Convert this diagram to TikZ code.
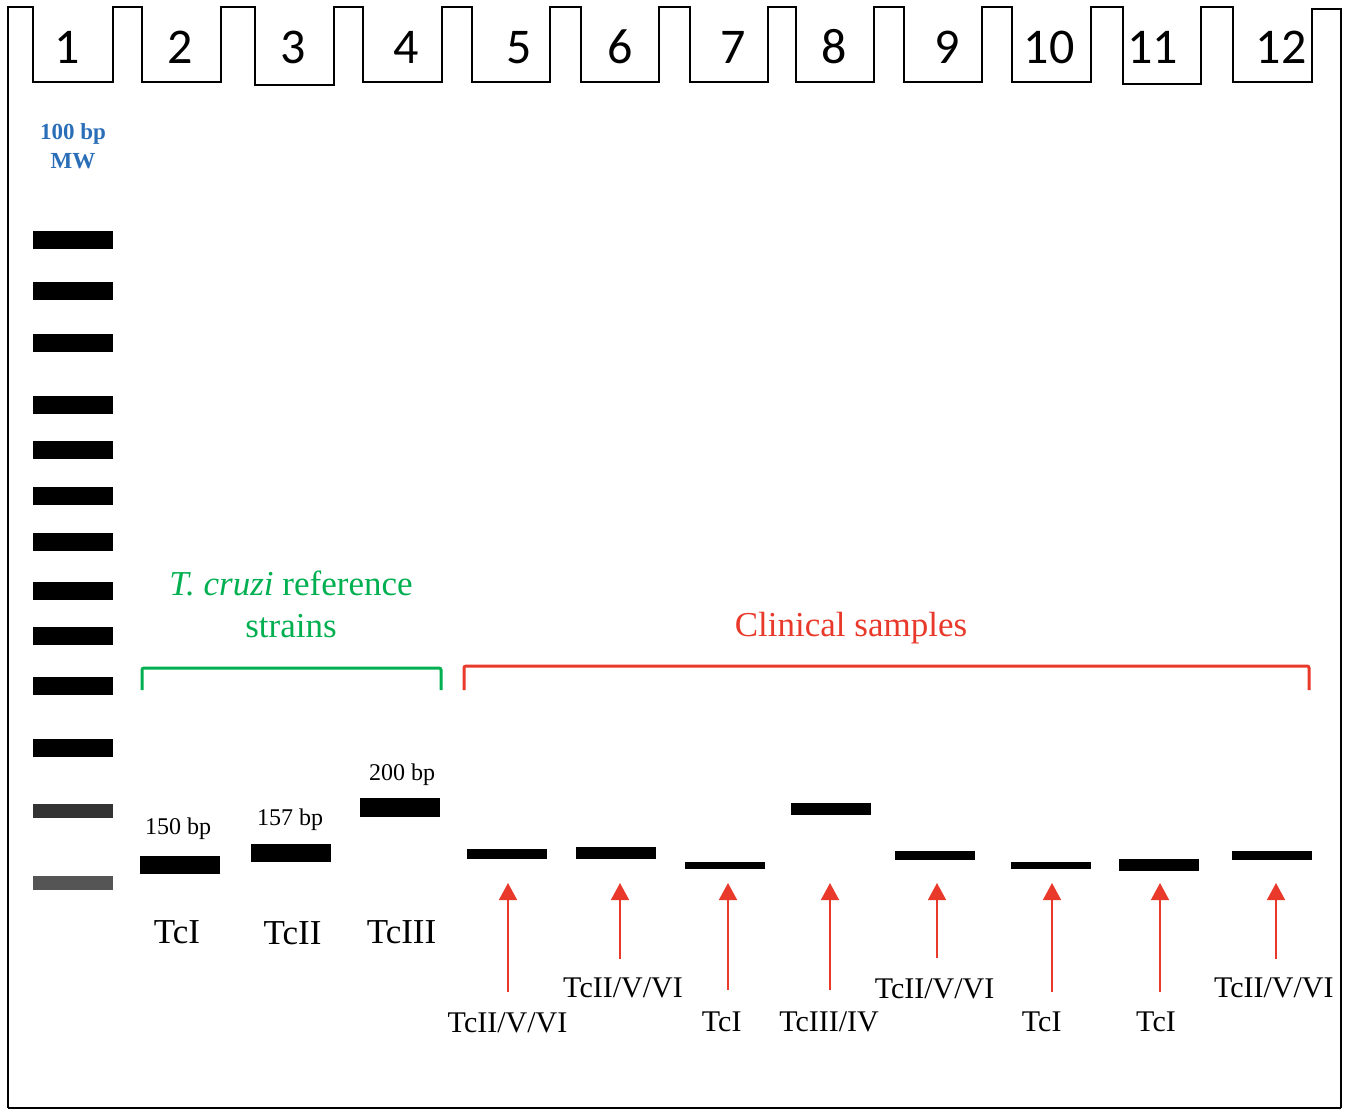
\documentclass[tikz,border=0pt]{standalone}
\usepackage{fontspec}
\setmainfont{Liberation Serif}
\newfontfamily\wellfont{Carlito}
\usetikzlibrary{arrows.meta}
\definecolor{mwblue}{HTML}{2A6EB8}
\definecolor{refgreen}{HTML}{00B050}
\definecolor{clinred}{HTML}{E8392A}
\definecolor{bandA}{HTML}{333333}
\definecolor{bandB}{HTML}{555555}
\begin{document}
\begin{tikzpicture}[x=1pt,y=-1pt,
  gel/.style={line width=1.6pt, black},
  band/.style={fill=black, draw=none, inner sep=0pt, minimum width=80pt},
  wellnum/.style={font=\wellfont\fontsize{50}{50}\selectfont, anchor=base, inner sep=0pt},
  bp/.style={font=\fontsize{24}{26}\selectfont, anchor=base, inner sep=0pt},
  tclab/.style={font=\fontsize{35}{37}\selectfont, anchor=base, inner sep=0pt},
  cllab/.style={font=\fontsize{30}{32}\selectfont, anchor=base, inner sep=0pt},
  mw/.style={font=\bfseries\fontsize{23}{25}\selectfont, text=mwblue, anchor=base, inner sep=0pt},
  grp/.style={font=\fontsize{35}{37}\selectfont, anchor=base, inner sep=0pt},
  redarrow/.style={clinred, line width=1.5pt, -{Triangle[width=18pt,length=17pt]}},
  bracket/.style={line width=3pt, rounded corners=2pt}
]
\useasboundingbox (0,0) rectangle (1350,1119);
% gel outline with comb wells
\draw[gel] (8,1108) -- (8,7) -- (33,7) -- (33,82) -- (113,82) -- (113,7)
  -- (142,7) -- (142,82) -- (221,82) -- (221,7)
  -- (255,7) -- (255,85) -- (334,85) -- (334,7)
  -- (363,7) -- (363,82) -- (442,82) -- (442,7)
  -- (472,7) -- (472,82) -- (550,82) -- (550,7)
  -- (581,7) -- (581,82) -- (659,82) -- (659,7)
  -- (690,7) -- (690,82) -- (768,82) -- (768,7)
  -- (796,7) -- (796,82) -- (874,82) -- (874,7)
  -- (904,7) -- (904,82) -- (982,82) -- (982,7)
  -- (1012,7) -- (1012,82) -- (1091,82) -- (1091,7)
  -- (1123,7) -- (1123,84) -- (1201,84) -- (1201,7)
  -- (1233,7) -- (1233,82) -- (1312,82) -- (1312,9)
  -- (1341,9) -- (1341,1108);
\draw[line width=2.4pt] (8,1108) -- (1341,1108);
% well numbers
\foreach \n/\x in {1/67.5,2/180,3/293,4/406,5/519,6/620.5,7/733,8/834,9/947.5,10/1049,11/1152.5,12/1281}
  \node[wellnum] (w\n) at (\x,63) {\n};
% ladder
\node[mw] (mw1) at (73,139) {100 bp};
\node[mw] (mw2) at (73,168) {MW};
\foreach \i/\y in {1/240,2/291,3/343,4/405,5/450,6/496,7/542,8/591,9/636,10/686,11/748}
  \node[band, minimum height=18pt] (l\i) at (73,\y) {};
\node[band, fill=bandA, minimum height=14pt] (l12) at (73,811) {};
\node[band, fill=bandB, minimum height=14pt] (l13) at (73,883) {};
% reference strains
\node[band, minimum height=18pt] (b2) at (179.5,865) {};
\node[band, minimum height=18pt] (b3) at (290.5,853) {};
\node[band, minimum height=19pt] (b4) at (399.5,807.5) {};
\node[bp] (bp2) at (178,834) {150 bp};
\node[bp] (bp3) at (290,825) {157 bp};
\node[bp] (bp4) at (402,780) {200 bp};
\node[tclab] (t2) at (177,943) {TcI};
\node[tclab] (t3) at (292.5,944) {TcII};
\node[tclab] (t4) at (401.5,943) {TcIII};
% clinical samples bands
\node[band, minimum height=10pt] (b5) at (507,854) {};
\node[band, minimum height=12pt] (b6) at (616,853) {};
\node[band, minimum height=7pt] (b7) at (724.5,865.5) {};
\node[band, minimum height=12pt] (b8) at (830.5,809) {};
\node[band, minimum height=9pt] (b9) at (935,855.5) {};
\node[band, minimum height=7pt] (b10) at (1050.5,865.5) {};
\node[band, minimum height=12pt] (b11) at (1159,865) {};
\node[band, minimum height=9pt] (b12) at (1272,855.5) {};
% group labels and brackets
\node[grp, text=refgreen] (g1) at (291,595) {\textit{T. cruzi} reference};
\node[grp, text=refgreen] (g2) at (291,637) {strains};
\node[grp, text=clinred] (g3) at (851,636) {Clinical samples};
\draw[bracket, refgreen] (142,690) -- (142,668) -- (441,668) -- (441,690);
\draw[bracket, clinred] (464,690) -- (464,666) -- (1309,666) -- (1309,690);
% clinical labels
\node[cllab] (c5) at (507.5,1032) {TcII/V/VI};
\node[cllab] (c6) at (623,997) {TcII/V/VI};
\node[cllab] (c7) at (721.7,1031) {TcI};
\node[cllab] (c8) at (829,1031) {TcIII/IV};
\node[cllab] (c9) at (934.5,998) {TcII/V/VI};
\node[cllab] (c10) at (1041.7,1031) {TcI};
\node[cllab] (c11) at (1156,1031) {TcI};
\node[cllab] (c12) at (1273.8,997) {TcII/V/VI};
% arrows
\foreach \n/\x/\t in {5/508/992,6/620/959,7/728/990,8/830/990,9/937/958,10/1052/992,11/1160/992,12/1276/959}{
  \coordinate (tail\n) at (\x,\t);
  \coordinate (tip\n) at (\x,883);
  \draw[redarrow] (tail\n) -- (tip\n);
}
\end{tikzpicture}
\end{document}
